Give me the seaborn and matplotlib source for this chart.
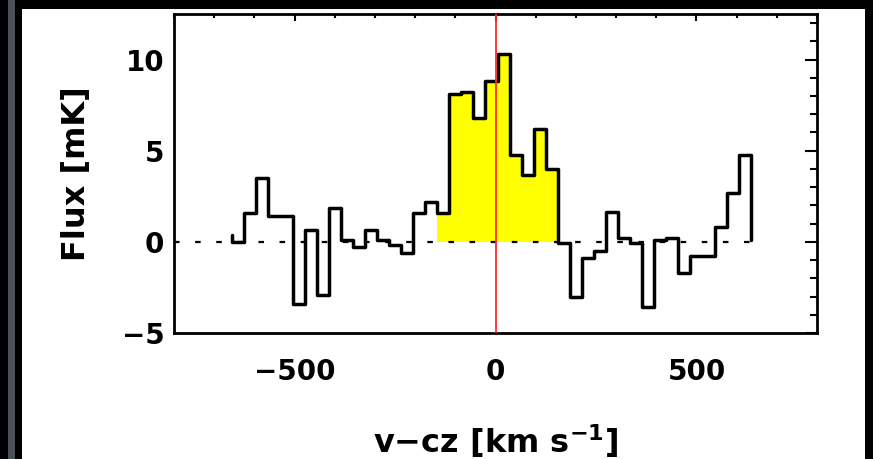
import numpy as np
import pandas as pd
import matplotlib
matplotlib.use("Agg")
import matplotlib.pyplot as plt
from matplotlib.ticker import MultipleLocator
from matplotlib.patches import Rectangle
import seaborn as sns

# ---- data ----
chan_width = 30.0
vel_center = [-640 + 30 * k for k in range(43)]  # km/s, channel centres
flux = [0.0, 1.6, 3.5, 1.4, 1.4, -3.4, 0.65, -2.9, 1.85, 0.1,
        -0.27, 0.65, 0.1, -0.15, -0.6, 1.6, 2.2, 1.6, 8.1, 8.2,
        6.8, 8.85, 10.3, 4.75, 3.66, 6.2, 4.0, -0.05, -3.0, -0.9,
        -0.5, 1.65, 0.2, -0.05, -3.55, 0.1, 0.2, -1.7, -0.8, -0.8,
        0.8, 2.7, 4.75]
start_cap = 0.4
end_cap = 0.1
line_lo, line_hi = 17, 26        # channels shaded as the line
x_ticks = [-500, 0, 500]
y_ticks = [-5, 0, 5, 10]
x_label = "v\u2212cz [km s$^{-1}$]"
y_label = "Flux [mK]"

# ---- build step table ----
edges = [c - chan_width / 2 for c in vel_center] + [vel_center[-1] + chan_width / 2]
step_x = [edges[0]] + edges
step_y = [start_cap] + flux + [end_cap]
df = pd.DataFrame({"vel": step_x, "flux": step_y})

sns.set_style("white")
plt.rcParams["font.family"] = ["DejaVu Sans"]
plt.rcParams["font.weight"] = "bold"
plt.rcParams["axes.labelweight"] = "bold"
plt.rcParams["mathtext.default"] = "bf"
plt.rcParams["text.color"] = "black"
plt.rcParams["axes.labelcolor"] = "black"
plt.rcParams["xtick.color"] = "black"
plt.rcParams["ytick.color"] = "black"

fig = plt.figure(figsize=(8.73, 4.59), dpi=100)
fig.patch.set_facecolor("black")
W, H = 873.0, 459.0
fig.patches.append(Rectangle((22 / W, 0), (865 - 22) / W, (459 - 9) / H,
                             transform=fig.transFigure, facecolor="white",
                             edgecolor="none", zorder=-10))
fig.patches.append(Rectangle((8 / W, 0), 7 / W, 1.0, transform=fig.transFigure,
                             facecolor="#4a5058", edgecolor="none", zorder=-10))

ax = fig.add_axes([174 / W, 1 - 333 / H, (817 - 174) / W, (333 - 14) / H])
ax.set_zorder(5)
ax.set_facecolor("white")

# yellow shaded line region
fx = edges[line_lo:line_hi + 2]
fy = flux[line_lo:line_hi + 1] + [flux[line_hi]]
ax.fill_between(fx, fy, 0, step="post", color="#ffff00", linewidth=0, zorder=1)

# dashed zero baseline
ax.hlines(0, -800, edges[-1], colors="black", linestyles=(0, (2.5, 7)),
          linewidth=1.6, zorder=2)

# spectrum
sns.lineplot(data=df, x="vel", y="flux", drawstyle="steps-post", sort=False,
             estimator=None, color="black", linewidth=2.5, ax=ax, zorder=3)

ax.axvline(0, color="#ff2a2a", linewidth=1.3, zorder=4)

ax.set_xlim(-800, 800)
ax.set_ylim(-5, 12.5)
ax.set_xticks(x_ticks)
ax.set_yticks(y_ticks)
ax.xaxis.set_minor_locator(MultipleLocator(100))
ax.yaxis.set_minor_locator(MultipleLocator(1))
ax.tick_params(axis="both", which="both", direction="in", top=True, right=True,
               colors="black", labelcolor="black", width=1.5)
ax.tick_params(axis="y", which="major", length=8.5, labelsize=20, pad=7)
ax.tick_params(axis="y", which="minor", length=5)
ax.tick_params(axis="x", which="major", length=5, labelsize=20, pad=18)
ax.tick_params(axis="x", which="minor", length=3)
for s in ax.spines.values():
    s.set_linewidth(2.0)
    s.set_color("black")

ax.set_xlabel(x_label, fontsize=23, fontweight="bold", color="black")
ax.set_ylabel(y_label, fontsize=23, fontweight="bold", color="black")
ax.xaxis.set_label_coords(0.5, -0.28)
ax.yaxis.set_label_coords(-0.128, 0.5)

fig.savefig("out.png", dpi=100, facecolor=fig.get_facecolor())
